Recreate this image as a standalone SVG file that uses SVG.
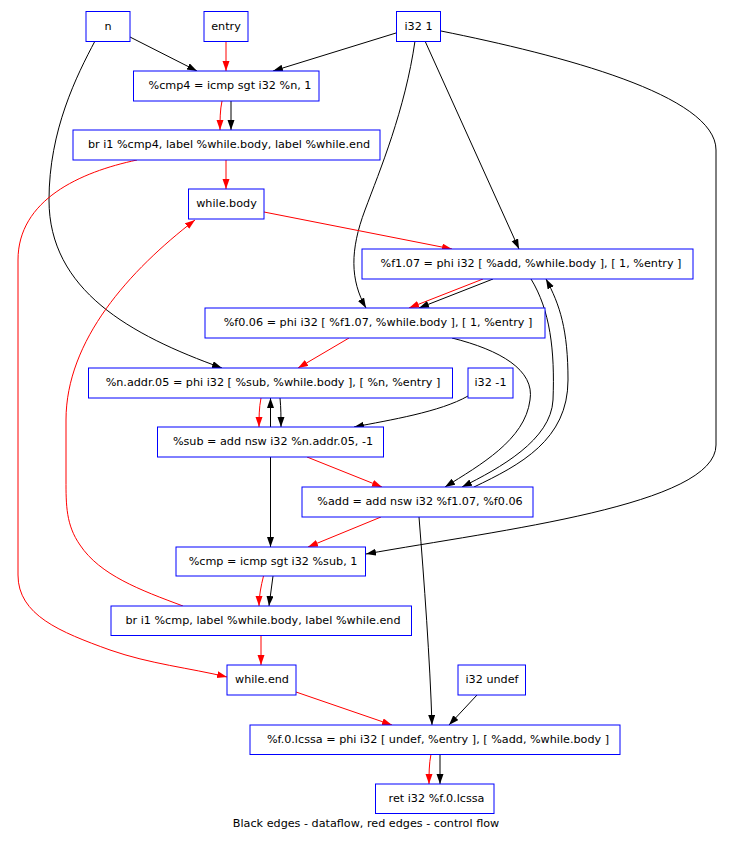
<svg xmlns="http://www.w3.org/2000/svg" width="736" height="841" viewBox="0 0 736 841">
<style>
.nd rect{fill:#fff;stroke:#0000ff;stroke-width:1}
.nd text,.cap{font-family:"DejaVu Sans",sans-serif;font-size:11.2px;fill:#000;text-anchor:middle}
.k{fill:none;stroke:#000;stroke-width:1}
.r{fill:none;stroke:#ff0000;stroke-width:1}
</style>
<defs>
<marker id="ak" markerUnits="userSpaceOnUse" markerWidth="10" markerHeight="8" refX="10" refY="3.5" orient="auto"><path d="M0,0 L10,3.5 L0,7 z" fill="#000"/></marker>
<marker id="ar" markerUnits="userSpaceOnUse" markerWidth="10" markerHeight="8" refX="10" refY="3.5" orient="auto"><path d="M0,0 L10,3.5 L0,7 z" fill="#ff0000"/></marker>
</defs>
<rect width="736" height="841" fill="#fff"/>
<g id="edges">
<path class="k" marker-end="url(#ak)" d="M130,37 L197,71"/>
<path class="r" marker-end="url(#ar)" d="M226,41 L226,71"/>
<path class="k" marker-end="url(#ak)" d="M396,33 L273,71"/>
<path class="k" marker-end="url(#ak)" d="M95,41 C77,75 49,130 49,200 C49,290 130,335 222,368"/>
<path class="k" marker-end="url(#ak)" d="M415,41 C405,110 380,170 365,210 C350,250 350,280 366,308"/>
<path class="k" marker-end="url(#ak)" d="M425,41 L519,249"/>
<path class="k" marker-end="url(#ak)" d="M441,31 C560,55 716,95 716,150 L716,445 C716,505 500,530 366,554"/>
<path class="r" marker-end="url(#ar)" d="M222,101 C220,110 220,120 220,130"/>
<path class="k" marker-end="url(#ak)" d="M231,101 L231,130"/>
<path class="r" marker-end="url(#ar)" d="M226,160 L226,189"/>
<path class="r" marker-end="url(#ar)" d="M137,160 C80,172 18,200 18,260 L18,575 C18,615 60,632 110,650 C150,664 190,668 227,677"/>
<path class="r" marker-end="url(#ar)" d="M264,212 L452,249"/>
<path class="r" marker-end="url(#ar)" d="M483,279 L409,308"/>
<path class="k" marker-end="url(#ak)" d="M493,279 L419,308"/>
<path class="k" marker-end="url(#ak)" d="M531,279 C550,310 555,350 553,400 C551,440 500,468 462,487"/>
<path class="k" marker-end="url(#ak)" d="M474,487 C520,465 568,440 568,380 C568,330 560,305 546,279"/>
<path class="k" marker-end="url(#ak)" d="M452,338 C500,350 535,370 530,400 C525,440 480,465 445,487"/>
<path class="r" marker-end="url(#ar)" d="M349,338 L298,368"/>
<path class="r" marker-end="url(#ar)" d="M261,398 C259,408 259,418 259,427"/>
<path class="k" marker-end="url(#ak)" d="M270.5,427 L270.5,398"/>
<path class="k" marker-end="url(#ak)" d="M280,398 C281,408 281,418 281,427"/>
<path class="k" marker-end="url(#ak)" d="M468,396 C440,412 390,420 354,427"/>
<path class="r" marker-end="url(#ar)" d="M307,457 L382,487"/>
<path class="k" marker-end="url(#ak)" d="M270.5,457 L270.5,547"/>
<path class="r" marker-end="url(#ar)" d="M381,517 L308,547"/>
<path class="k" marker-end="url(#ak)" d="M419,517 C424,580 430,660 432,725"/>
<path class="r" marker-end="url(#ar)" d="M263.5,576 C261,586 259,596 259,606"/>
<path class="k" marker-end="url(#ak)" d="M273,576 C272,586 270,596 269,606"/>
<path class="r" marker-end="url(#ar)" d="M183,606 C140,590 100,575 80,545 C66,525 66,505 66,480 L66,420 C66,340 130,270 195,220"/>
<path class="r" marker-end="url(#ar)" d="M261,635 L261,665"/>
<path class="r" marker-end="url(#ar)" d="M296,692 L392,725"/>
<path class="k" marker-end="url(#ak)" d="M477,695 L449,725"/>
<path class="r" marker-end="url(#ar)" d="M431,754 C429,764 429,774 429,784"/>
<path class="k" marker-end="url(#ak)" d="M440,754 L440,784"/>
</g>
<g id="n" class="nd"><rect x="86" y="11.5" width="44" height="30"/><text x="108" y="29.5">n</text></g>
<g id="entry" class="nd"><rect x="204" y="11.5" width="44" height="30"/><text x="226" y="29.5">entry</text></g>
<g id="i32_1" class="nd"><rect x="396.5" y="11.5" width="44" height="30"/><text x="418.5" y="29.5">i32 1</text></g>
<g id="cmp4" class="nd"><rect x="133.5" y="71" width="185.5" height="30"/><text x="230" y="89">%cmp4 = icmp sgt i32 %n, 1</text></g>
<g id="br_cmp4" class="nd"><rect x="73" y="130" width="307" height="30"/><text x="229" y="148">br i1 %cmp4, label %while.body, label %while.end</text></g>
<g id="while_body" class="nd"><rect x="188.5" y="189" width="75.5" height="30"/><text x="226.5" y="207">while.body</text></g>
<g id="f1_07" class="nd"><rect x="362" y="249" width="331" height="30"/><text x="531" y="267">%f1.07 = phi i32 [ %add, %while.body ], [ 1, %entry ]</text></g>
<g id="f0_06" class="nd"><rect x="205" y="308" width="340" height="30"/><text x="378" y="326">%f0.06 = phi i32 [ %f1.07, %while.body ], [ 1, %entry ]</text></g>
<g id="n_addr_05" class="nd"><rect x="88.5" y="368" width="364" height="30"/><text x="273" y="386">%n.addr.05 = phi i32 [ %sub, %while.body ], [ %n, %entry ]</text></g>
<g id="i32_m1" class="nd"><rect x="468" y="368" width="45" height="30"/><text x="490.5" y="386">i32 -1</text></g>
<g id="sub" class="nd"><rect x="157.5" y="427" width="226" height="30"/><text x="273" y="445">%sub = add nsw i32 %n.addr.05, -1</text></g>
<g id="add" class="nd"><rect x="302" y="487" width="231" height="30"/><text x="420" y="505">%add = add nsw i32 %f1.07, %f0.06</text></g>
<g id="cmp" class="nd"><rect x="176" y="547" width="189.5" height="29"/><text x="273" y="564.5">%cmp = icmp sgt i32 %sub, 1</text></g>
<g id="br_cmp" class="nd"><rect x="111" y="606" width="300.5" height="29.5"/><text x="263" y="623.5">br i1 %cmp, label %while.body, label %while.end</text></g>
<g id="while_end" class="nd"><rect x="227" y="665" width="69" height="30"/><text x="262" y="683">while.end</text></g>
<g id="i32_undef" class="nd"><rect x="458" y="665" width="67.5" height="30"/><text x="492" y="683">i32 undef</text></g>
<g id="f_0_lcssa" class="nd"><rect x="250" y="725" width="370" height="29.5"/><text x="438" y="742.5">%f.0.lcssa = phi i32 [ undef, %entry ], [ %add, %while.body ]</text></g>
<g id="ret" class="nd"><rect x="375.5" y="784" width="118.5" height="29.5"/><text x="436.5" y="801.5">ret i32 %f.0.lcssa</text></g>
<text class="cap" x="366" y="827">Black edges - dataflow, red edges - control flow</text>
</svg>
